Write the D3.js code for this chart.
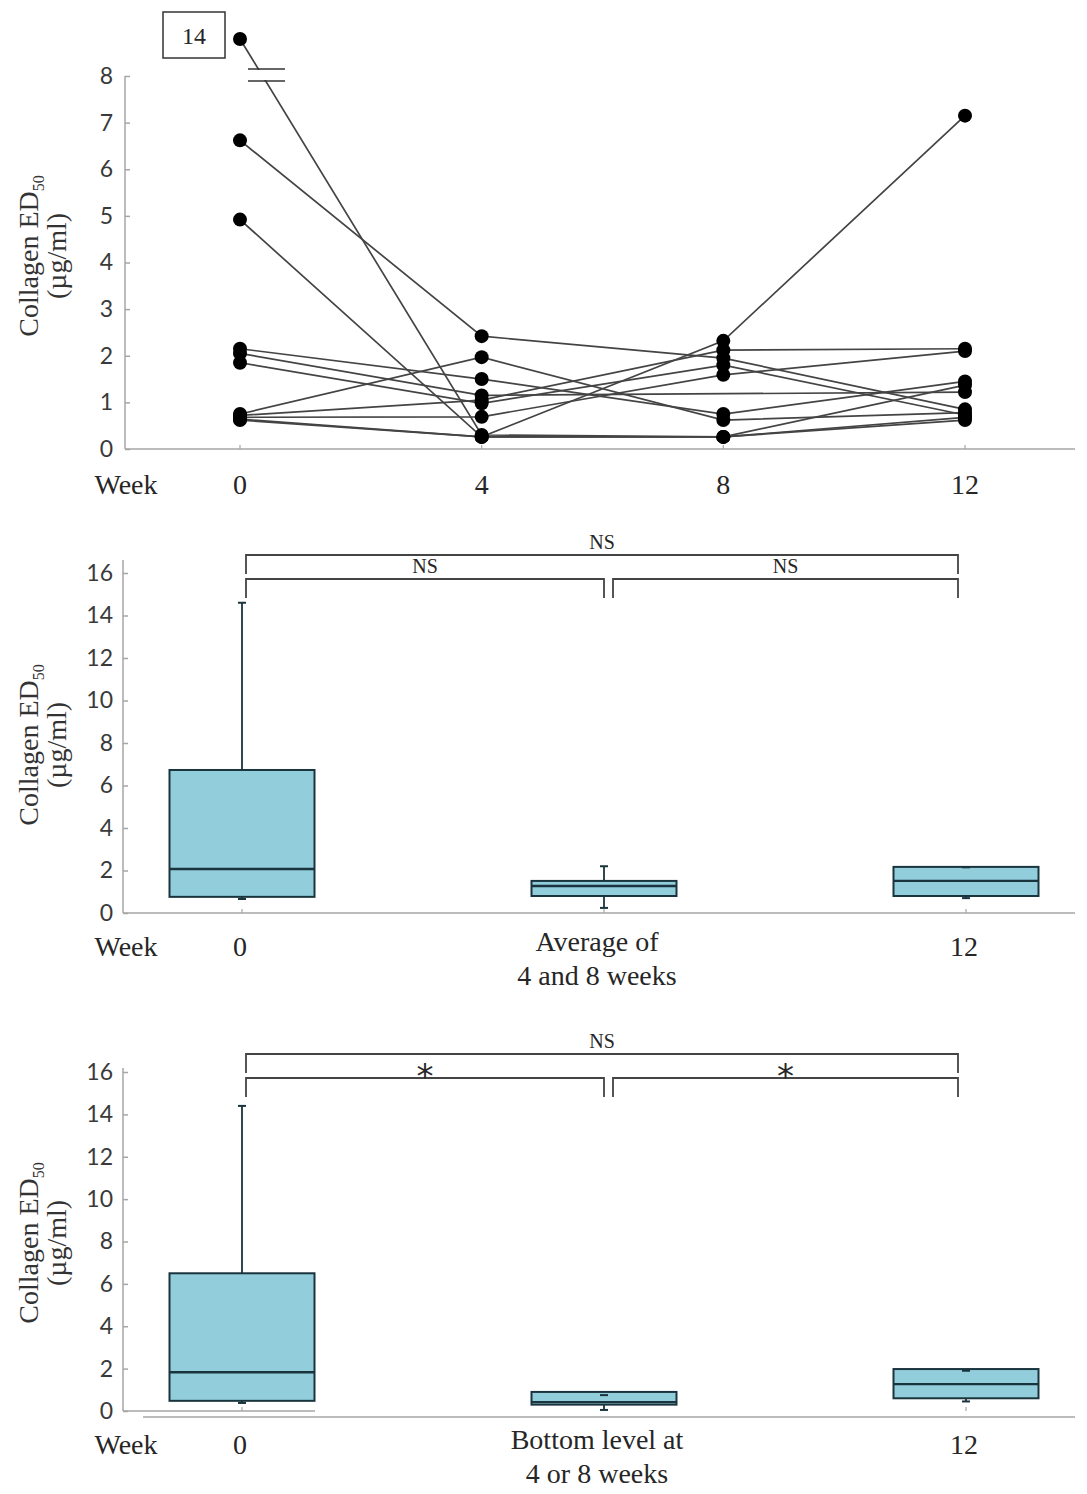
<!DOCTYPE html>
<html>
<head>
<meta charset="utf-8">
<script src="https://cdn.jsdelivr.net/npm/d3@7"></script>
<style>
  body { margin: 0; background: #fff; }
  svg { display: block; }
</style>
</head>
<body>
<div id="chart"></div>
<script>
// ---- data ----
const weeks = [0, 4, 8, 12];
// one row per patient: ED50 at week 0, 4, 8, 12 (null = no measurement)
const patientValues = [
  [14.0, 0.30, 0.26, 0.68],
  [6.62, 2.42, 1.95, 0.85],
  [4.92, 0.26, 2.32, 7.15],
  [2.15, 1.50, 0.75, 1.45],
  [2.05, 1.15, null, 1.22],
  [1.85, 0.98, 1.80, 0.73],
  [0.75, 1.97, 0.62, 0.78],
  [0.72, 1.05, 2.12, 2.15],
  [0.68, 0.69, 1.59, 2.10],
  [0.64, 0.26, 0.26, 1.37],
  [0.62, 0.26, 0.26, 0.62]
];
const topTicks = [0, 1, 2, 3, 4, 5, 6, 7, 8];

const boxTicks = [0, 2, 4, 6, 8, 10, 12, 14, 16];

// middle panel: week 0, average of 4 and 8 weeks, week 12
const avgLabels = [["0"], ["Average of", "4 and 8 weeks"], ["12"]];
const avgLow = [0.66, 0.24, 0.70];
const avgQ1 = [0.76, 0.80, 0.80];
const avgMedian = [2.07, 1.27, 1.51];
const avgQ3 = [6.73, 1.51, 2.17];
const avgHigh = [14.6, 2.20, 2.15];
const avgSig = ["NS", "NS", "NS"];

// bottom panel: week 0, bottom level at 4 or 8 weeks, week 12
const minLabels = [["0"], ["Bottom level at", "4 or 8 weeks"], ["12"]];
const minLow = [0.38, 0.05, 0.45];
const minQ1 = [0.48, 0.30, 0.60];
const minMedian = [1.83, 0.42, 1.27];
const minQ3 = [6.50, 0.90, 1.98];
const minHigh = [14.4, 0.75, 1.90];
const minSig = ["NS", "*", "*"];

// comparisons: [from, to] as category index, outer first
const bracketPairs = [[0, 2], [0, 1], [1, 2]];

// ---- drawing ----
const W = 1087, H = 1494;
const serif = "'Liberation Serif', 'Times New Roman', serif";
const sans = "Lato, 'Open Sans', sans-serif";
const axisColor = "#a6a6a6";
const inkColor = "#262626";
const boxFill = "#92cddc";
const boxStroke = "#1a343d";

const svg = d3.select("#chart")
  .append("svg")
  .attr("width", W)
  .attr("height", H);

function yLabel(g, cy) {
  const t = g.append("text")
    .attr("transform", `translate(38,${cy}) rotate(-90)`)
    .attr("text-anchor", "middle")
    .attr("font-family", serif)
    .attr("font-size", 28)
    .attr("fill", "#333");
  t.append("tspan").text("Collagen ED");
  t.append("tspan").attr("font-size", 16).attr("dy", 6).text("50");
  g.append("text")
    .attr("transform", `translate(66,${cy}) rotate(-90)`)
    .attr("text-anchor", "middle")
    .attr("font-family", serif)
    .attr("font-size", 28)
    .attr("fill", "#333")
    .text("(µg/ml)");
}

function styleAxis(a) {
  a.select(".domain").remove();
  a.selectAll(".tick line").attr("stroke", axisColor).attr("stroke-width", 1.5);
  a.selectAll(".tick text")
    .attr("font-family", sans)
    .attr("font-size", 23)
    .attr("fill", "#3a3a3a");
}

// ---------- top panel: individual courses ----------
const topPanel = svg.append("g");
const xTop = d3.scaleLinear().domain([0, 12]).range([240, 965]);
// broken axis: 0-8 linear, value 14 is placed above the break
const yTop = d3.scaleLinear().domain([0, 8, 14]).range([449, 76, 39]);

topPanel.append("line")
  .attr("x1", 125).attr("x2", 125)
  .attr("y1", yTop(0)).attr("y2", yTop(8))
  .attr("stroke", axisColor).attr("stroke-width", 1.5);
topPanel.append("line")
  .attr("x1", 125).attr("x2", 1075)
  .attr("y1", yTop(0)).attr("y2", yTop(0))
  .attr("stroke", axisColor).attr("stroke-width", 1.5);

const topAxis = topPanel.append("g")
  .attr("transform", "translate(125,0)")
  .call(d3.axisLeft(yTop).tickValues(topTicks).tickSizeInner(-5).tickSizeOuter(0).tickPadding(12));
styleAxis(topAxis);

topPanel.selectAll(".xtick")
  .data(weeks)
  .enter()
  .append("line")
  .attr("x1", d => xTop(d)).attr("x2", d => xTop(d))
  .attr("y1", yTop(0)).attr("y2", yTop(0) - 4)
  .attr("stroke", axisColor).attr("stroke-width", 1.2);

const line = d3.line()
  .x(d => xTop(d[0]))
  .y(d => yTop(d[1]));

topPanel.selectAll(".course")
  .data(patientValues)
  .enter()
  .append("path")
  .attr("d", row => line(weeks.map((w, i) => [w, row[i]]).filter(p => p[1] !== null)))
  .attr("fill", "none")
  .attr("stroke", "#444")
  .attr("stroke-width", 1.7);

// axis break marks
const breakY = yTop(8);
topPanel.append("rect")
  .attr("x", 247).attr("y", breakY - 6)
  .attr("width", 40).attr("height", 10)
  .attr("fill", "#fff");
[breakY - 7, breakY + 5].forEach(yy => {
  topPanel.append("line")
    .attr("x1", 248).attr("x2", 285)
    .attr("y1", yy).attr("y2", yy)
    .attr("stroke", "#333").attr("stroke-width", 1.6);
});

const dots = [];
patientValues.forEach(row => row.forEach((v, i) => { if (v !== null) dots.push([weeks[i], v]); }));
topPanel.selectAll(".dot")
  .data(dots)
  .enter()
  .append("circle")
  .attr("cx", d => xTop(d[0]))
  .attr("cy", d => yTop(d[1]))
  .attr("r", 7)
  .attr("fill", "#000");

// box showing the broken value
const maxVal = d3.max(patientValues, r => r[0]);
topPanel.append("rect")
  .attr("x", 163).attr("y", 12)
  .attr("width", 62).attr("height", 46)
  .attr("fill", "none").attr("stroke", "#333").attr("stroke-width", 1.5);
topPanel.append("text")
  .attr("x", 194).attr("y", 44)
  .attr("text-anchor", "middle")
  .attr("font-family", serif).attr("font-size", 24)
  .attr("fill", inkColor)
  .text(maxVal);

topPanel.append("text")
  .attr("x", 126).attr("y", 494)
  .attr("text-anchor", "middle")
  .attr("font-family", serif).attr("font-size", 28)
  .attr("fill", inkColor)
  .text("Week");
topPanel.selectAll(".wlabel")
  .data(weeks)
  .enter()
  .append("text")
  .attr("x", d => xTop(d)).attr("y", 494)
  .attr("text-anchor", "middle")
  .attr("font-family", serif).attr("font-size", 28)
  .attr("fill", inkColor)
  .text(d => d);

yLabel(topPanel, 256);

// ---------- box panels ----------
function boxPanel(opt) {
  const g = svg.append("g");
  const x = d3.scalePoint().domain(d3.range(opt.labels.length)).range([242, 966]);
  const y = d3.scaleLinear().domain([0, 16]).range([opt.y0, opt.y16]);
  const bw = 145;

  g.append("line")
    .attr("x1", 123).attr("x2", 123)
    .attr("y1", y(0)).attr("y2", y(16) - opt.axisOver)
    .attr("stroke", axisColor).attr("stroke-width", 1.5);
  opt.xAxes.forEach(a => {
    g.append("line")
      .attr("x1", a[0]).attr("x2", a[1])
      .attr("y1", y(0) + a[2]).attr("y2", y(0) + a[2])
      .attr("stroke", axisColor).attr("stroke-width", 1.5);
  });

  const ax = g.append("g")
    .attr("transform", "translate(123,0)")
    .call(d3.axisLeft(y).tickValues(boxTicks).tickSizeInner(-5).tickSizeOuter(0).tickPadding(10));
  styleAxis(ax);

  const idx = d3.range(opt.labels.length);
  g.selectAll(".xt")
    .data(idx)
    .enter()
    .append("line")
    .attr("x1", i => x(i)).attr("x2", i => x(i))
    .attr("y1", y(0)).attr("y2", y(0) - 4)
    .attr("stroke", axisColor).attr("stroke-width", 1.2);

  // whiskers
  const wh = g.selectAll(".wh").data(idx).enter().append("g");
  wh.append("line")
    .attr("x1", i => x(i)).attr("x2", i => x(i))
    .attr("y1", i => y(opt.q3[i])).attr("y2", i => y(opt.high[i]))
    .attr("stroke", boxStroke).attr("stroke-width", 1.8);
  wh.append("line")
    .attr("x1", i => x(i)).attr("x2", i => x(i))
    .attr("y1", i => y(opt.q1[i])).attr("y2", i => y(opt.low[i]))
    .attr("stroke", boxStroke).attr("stroke-width", 1.8);

  g.selectAll(".box")
    .data(idx)
    .enter()
    .append("rect")
    .attr("x", i => x(i) - bw / 2)
    .attr("width", bw)
    .attr("y", i => y(opt.q3[i]))
    .attr("height", i => y(opt.q1[i]) - y(opt.q3[i]))
    .attr("fill", boxFill)
    .attr("stroke", boxStroke)
    .attr("stroke-width", 2);

  g.selectAll(".med")
    .data(idx)
    .enter()
    .append("line")
    .attr("x1", i => x(i) - bw / 2).attr("x2", i => x(i) + bw / 2)
    .attr("y1", i => y(opt.median[i])).attr("y2", i => y(opt.median[i]))
    .attr("stroke", boxStroke).attr("stroke-width", 2.4);

  // whisker caps
  [opt.high, opt.low].forEach(arr => {
    g.selectAll(null)
      .data(idx)
      .enter()
      .append("line")
      .attr("x1", i => x(i) - 4).attr("x2", i => x(i) + 4)
      .attr("y1", i => y(arr[i])).attr("y2", i => y(arr[i]))
      .attr("stroke", boxStroke).attr("stroke-width", 2);
  });

  // significance brackets
  const outerY = y(16) - 18;
  const innerY = outerY + 24;
  bracketPairs.forEach((p, k) => {
    const by = k === 0 ? outerY : innerY;
    let x1 = x(p[0]) + 4, x2 = x(p[1]) - 8;
    if (k === 1) x2 = x(p[1]);
    if (k === 2) x1 = x(p[0]) + 9;
    const drop = 19;
    g.append("path")
      .attr("d", `M${x1},${by + drop}V${by}H${x2}V${by + drop}`)
      .attr("fill", "none")
      .attr("stroke", "#444")
      .attr("stroke-width", 1.8);
    const star = opt.sig[k] === "*";
    g.append("text")
      .attr("x", (x1 + x2) / 2)
      .attr("y", star ? by + 10 : by - 6)
      .attr("text-anchor", "middle")
      .attr("font-family", star ? "'DejaVu Sans', sans-serif" : serif)
      .attr("font-size", star ? 34 : 20)
      .attr("fill", inkColor)
      .text(opt.sig[k]);
  });

  // category labels
  g.append("text")
    .attr("x", 126).attr("y", opt.labelY)
    .attr("text-anchor", "middle")
    .attr("font-family", serif).attr("font-size", 28)
    .attr("fill", inkColor)
    .text("Week");
  idx.forEach(i => {
    const lines = opt.labels[i];
    const lx = lines.length > 1 ? x(i) - 7 : x(i) - 2;
    const t = g.append("text")
      .attr("x", lx)
      .attr("y", lines.length > 1 ? opt.labelY - 5 : opt.labelY)
      .attr("text-anchor", "middle")
      .attr("font-family", serif).attr("font-size", 28)
      .attr("fill", inkColor);
    lines.forEach((s, j) => {
      t.append("tspan").attr("x", lx).attr("dy", j === 0 ? 0 : 34).text(s);
    });
  });

  yLabel(g, opt.labelCy);
}

boxPanel({
  y0: 913, y16: 573, axisOver: 13,
  xAxes: [[123, 1075, 0]],
  labels: avgLabels, low: avgLow, q1: avgQ1, median: avgMedian, q3: avgQ3, high: avgHigh,
  sig: avgSig, labelY: 956, labelCy: 745
});

boxPanel({
  y0: 1411, y16: 1072, axisOver: 4,
  xAxes: [[123, 315, 0], [143, 1075, 6]],
  labels: minLabels, low: minLow, q1: minQ1, median: minMedian, q3: minQ3, high: minHigh,
  sig: minSig, labelY: 1454, labelCy: 1243
});
</script>
</body>
</html>
